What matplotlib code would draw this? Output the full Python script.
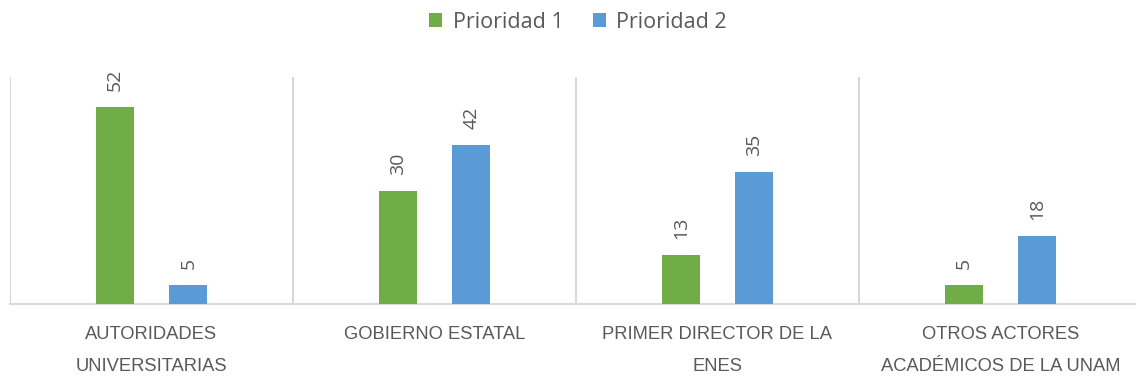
import matplotlib
matplotlib.use("Agg")
import matplotlib.pyplot as plt
import numpy as np

categories = ["AUTORIDADES\nUNIVERSITARIAS", "GOBIERNO ESTATAL",
              "PRIMER DIRECTOR DE LA\nENES", "OTROS ACTORES\nACADÉMICOS DE LA UNAM"]
series_names = ["Prioridad 1", "Prioridad 2"]
prioridad1 = [52, 30, 13, 5]
prioridad2 = [5, 42, 35, 18]
colors = ["#70ad47", "#5b9bd5"]
text_color = "#595959"
grid_color = "#d9d9d9"

plt.rcParams['font.family'] = ['Liberation Sans', 'DejaVu Sans']

fig = plt.figure(figsize=(11.36, 3.79), dpi=100)
ax = fig.add_axes([10/1136, 75/379, 1132/1136, 227/379])

x = np.arange(len(categories))
w = 0.134
off = 0.13
b1 = ax.bar(x - off, prioridad1, w, color=colors[0], label=series_names[0], zorder=3)
b2 = ax.bar(x + off, prioridad2, w, color=colors[1], label=series_names[1], zorder=3)

for bars in (b1, b2):
    for r in bars:
        ax.annotate(f"{int(r.get_height())}", (r.get_x() + r.get_width()/2, r.get_height()),
                    xytext=(0, 11.5), textcoords="offset points", rotation=90,
                    ha="center", va="bottom", fontsize=14, color=text_color,
                    family=['Open Sans', 'DejaVu Sans'])

ax.set_xlim(-0.5, len(categories) - 0.5)
ax.set_ylim(0, 60)
for b in np.arange(-0.5, len(categories), 1.0):
    ax.axvline(b, color=grid_color, lw=1.5, zorder=1)

for s in ["top", "right", "left"]:
    ax.spines[s].set_visible(False)
ax.spines["bottom"].set_color(grid_color)
ax.spines["bottom"].set_linewidth(1.5)
ax.set_yticks([])
ax.set_xticks(x)
ax.set_xticklabels(categories, fontsize=13.2, color=text_color, linespacing=2.15)
ax.tick_params(axis="x", length=0, pad=16)

leg = fig.legend(loc="upper center", bbox_to_anchor=(0.509, 1.02), ncol=2, frameon=False,
                 handlelength=0.6, handleheight=0.6, handletextpad=0.5,
                 columnspacing=1.35, prop={'family': ['Open Sans', 'DejaVu Sans'], 'size': 15.5})
for t in leg.get_texts():
    t.set_color(text_color)

fig.savefig("out.png", dpi=100)
